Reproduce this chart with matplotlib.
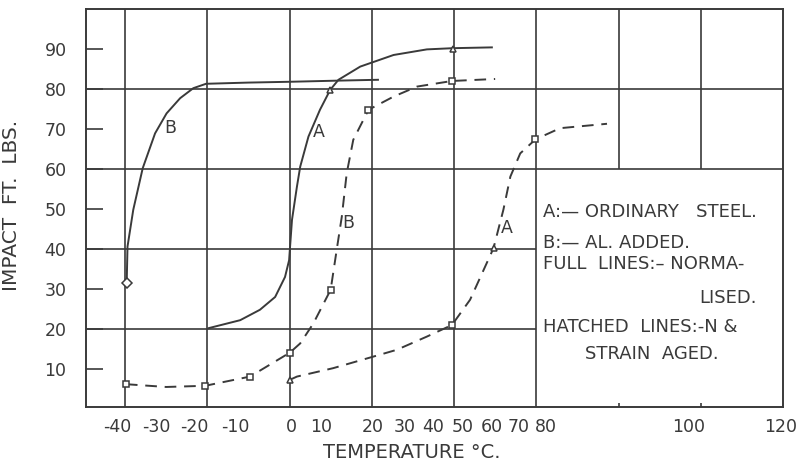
import matplotlib.pyplot as plt
import numpy as np

# curve traces (temperature degC, impact ft.lbs)
b_full_t = [-39.6, -39.4, -38.0, -35.7, -32.7, -29.9, -26.6, -23.4, -20.3, -10.0, 0.0, 12.3, 21.5]
b_full_v = [31.4, 40.6, 49.8, 60.2, 68.9, 73.9, 77.7, 80.2, 81.3, 81.6, 81.8, 82.1, 82.3]

a_full_t = [-19.7, -12.0, -7.2, -3.5, -1.1, -0.1, 0.1, 0.6, 1.8, 2.6, 4.6, 7.4, 9.9,
            11.9, 17.2, 25.3, 33.4, 39.7, 49.2]
a_full_v = [20.2, 22.2, 24.8, 28.0, 33.0, 37.2, 40.2, 47.3, 55.6, 60.6, 68.1, 74.8, 79.8,
            82.3, 85.6, 88.5, 89.9, 90.2, 90.4]

b_aged_t = [-39.8, -30.0, -20.5, -9.6, 0.1, 2.6, 5.8, 10.0, 11.5, 12.7, 13.9, 15.5, 19.2,
            25.3, 31.0, 39.5, 50.0]
b_aged_v = [6.2, 5.5, 5.8, 8.1, 14.1, 16.4, 21.4, 29.8, 40.0, 48.0, 58.9, 67.3, 74.8,
            78.1, 80.6, 82.0, 82.5]

a_aged_t = [0.1, 1.8, 10.6, 20.4, 26.1, 33.4, 39.5, 43.9, 49.6, 52.0, 53.7, 56.1, 59.8,
            65.8, 77.2]
a_aged_v = [7.3, 8.1, 10.2, 13.1, 14.8, 18.1, 21.0, 27.3, 40.2, 49.8, 58.1, 63.9, 67.4,
            70.2, 71.3]

# test points
b_full_pts_t, b_full_pts_v = [-39.6], [31.4]
a_full_pts_t, a_full_pts_v = [9.9, 39.7], [79.8, 90.0]
b_aged_pts_t = [-39.8, -20.5, -9.6, 0.1, 10.0, 19.2, 39.5]
b_aged_pts_v = [6.2, 5.8, 8.1, 14.1, 29.8, 74.8, 82.0]
a_aged_sq_t, a_aged_sq_v = [39.5, 59.8], [21.0, 67.4]
a_aged_tri_t, a_aged_tri_v = [0.1, 49.6], [7.3, 40.2]

y_ticks = [10, 20, 30, 40, 50, 60, 70, 80, 90]
x_tick_labels = ["-40", "-30", "-20", "-10", "0", "10", "20", "30", "40", "50",
                 "60", "70", "80", "100", "120"]
# the hand lettering sits a little off the grid, so place labels where they are drawn
x_label_pos = [-42.0, -32.5, -23.2, -13.2, 0.4, 7.7, 20.3, 28.1, 34.9, 42.0,
               49.1, 55.6, 62.4, 97.0, 119.4]

key_lines = ["A:\u2014 ORDINARY   STEEL.", "B:\u2014 AL. ADDED.", "FULL  LINES:\u2013 NORMA-",
             "LISED.", "HATCHED  LINES:-N &", "STRAIN  AGED."]

ink = "#3a3a3a"
plt.rcParams["font.family"] = ["DejaVu Sans"]

fig = plt.figure(figsize=(7.99, 4.63), dpi=100)
ax = fig.add_axes([0.1076, 0.121, 0.8724, 0.8596])
ax.set_xlim(-49.5, 120)
ax.set_ylim(0.5, 100)

# grid, with the key box (60..120, 0..60) left clear
grid_kw = dict(color=ink, linewidth=1.2, zorder=1)
for v in [60, 80]:
    ax.hlines(v, -49.5, 120, **grid_kw)
for v in [20, 40]:
    ax.hlines(v, -49.5, 60, **grid_kw)
for t in [-40, -20, 0, 20, 40, 60]:
    ax.vlines(t, 0.5, 100, **grid_kw)
for t in [80, 100]:
    ax.vlines(t, 60, 100, **grid_kw)

line_kw = dict(color=ink, linewidth=1.4, zorder=3)
ax.plot(b_full_t, b_full_v, **line_kw)
ax.plot(a_full_t, a_full_v, **line_kw)
ax.plot(b_aged_t, b_aged_v, dashes=(6, 4), **line_kw)
ax.plot(a_aged_t, a_aged_v, dashes=(6, 4), **line_kw)

mk = dict(linestyle="none", markerfacecolor="white", markeredgecolor=ink,
          markeredgewidth=1.1, markersize=5, zorder=4)
ax.plot(b_full_pts_t, b_full_pts_v, marker="D", **mk)
ax.plot(a_full_pts_t, a_full_pts_v, marker="^", **mk)
ax.plot(b_aged_pts_t, b_aged_pts_v, marker="s", **mk)
ax.plot(a_aged_sq_t, a_aged_sq_v, marker="s", **mk)
ax.plot(a_aged_tri_t, a_aged_tri_v, marker="^", **mk)

lab_kw = dict(color=ink, fontsize=12.5, ha="center", va="center")
ax.text(-29.0, 70.2, "B", **lab_kw)
ax.text(7.0, 69.3, "A", **lab_kw)
ax.text(14.3, 46.4, "B", **lab_kw)
ax.text(52.9, 45.2, "A", **lab_kw)

key_kw = dict(color=ink, fontsize=13, va="center")
ax.text(61.7, 49.2, key_lines[0], **key_kw)
ax.text(61.7, 41.5, key_lines[1], **key_kw)
ax.text(61.7, 36.2, key_lines[2], **key_kw)
ax.text(113.7, 27.7, key_lines[3], ha="right", **key_kw)
ax.text(61.7, 20.5, key_lines[4], **key_kw)
ax.text(71.9, 13.7, key_lines[5], **key_kw)

ax.set_yticks(y_ticks)
ax.tick_params(axis="y", direction="in", length=12, width=1.2, color=ink,
               labelcolor=ink, labelsize=12.5, pad=14)
ax.set_xticks(x_label_pos, x_tick_labels)
ax.tick_params(axis="x", length=0, labelcolor=ink, labelsize=12.5, pad=8)
ax.set_xticks([80, 100], minor=True)
ax.tick_params(axis="x", which="minor", direction="in", length=3, width=1.2, color=ink)

for s in ax.spines.values():
    s.set_color(ink)
    s.set_linewidth(1.4)

ax.set_xlabel("TEMPERATURE \u00b0C.", color=ink, fontsize=14)
ax.xaxis.set_label_coords(0.468, -0.09)
ax.set_ylabel("IMPACT  FT.  LBS.", color=ink, fontsize=14.5)
ax.yaxis.set_label_coords(-0.093, 0.507)

fig.savefig("out.png", dpi=100, facecolor="white")
